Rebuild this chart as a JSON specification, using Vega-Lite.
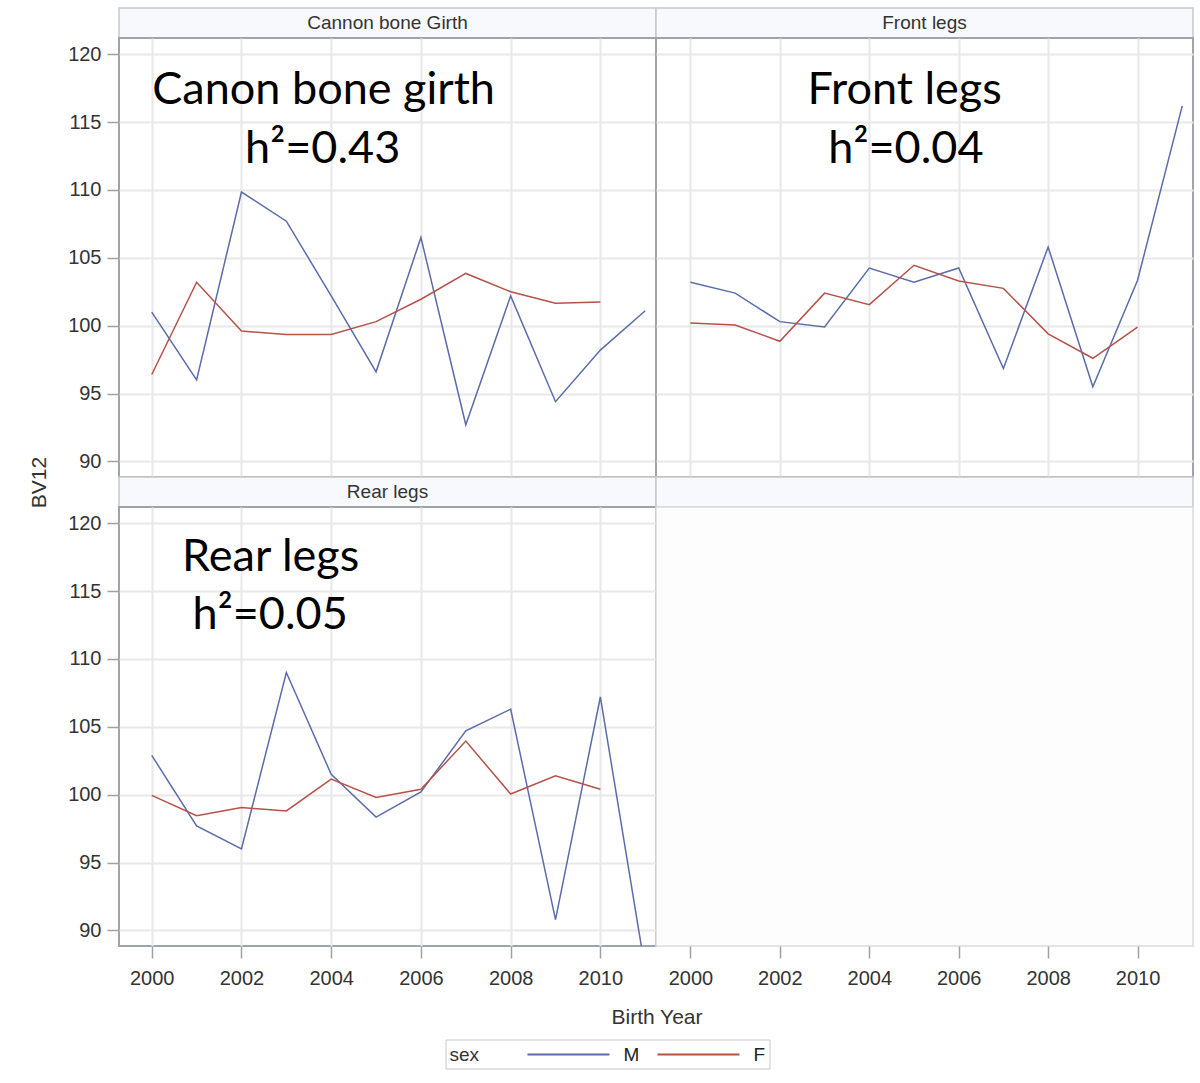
{
  "$schema": "https://vega.github.io/schema/vega-lite/v6.json",
  "background": "white",
  "autosize": {"type": "pad"},
  "padding": {"left": 27, "top": 7, "right": 8, "bottom": 14},
  "config": {
    "font": "Liberation Sans",
    "view": {"stroke": null},
    "axis": {
      "labelFont": "Liberation Sans", "labelFontSize": 20, "labelColor": "#333333",
      "titleFont": "Liberation Sans", "titleFontSize": 21, "titleFontWeight": "normal", "titleColor": "#333333",
      "gridColor": "#e8e8e8", "gridWidth": 2, "tickColor": "#a0a0a0", "tickWidth": 1.5, "tickSize": 12,
      "domain": false, "labelPadding": 6
    },
    "legend": {"labelFont": "Liberation Sans", "titleFont": "Liberation Sans"}
  },
  "datasets": {
    "lines": [
      {"trait": "Cannon bone Girth", "sex": "M", "year": 2000, "bv": 101.0},
      {"trait": "Cannon bone Girth", "sex": "M", "year": 2001, "bv": 96.0},
      {"trait": "Cannon bone Girth", "sex": "M", "year": 2002, "bv": 109.85},
      {"trait": "Cannon bone Girth", "sex": "M", "year": 2003, "bv": 107.7},
      {"trait": "Cannon bone Girth", "sex": "M", "year": 2004, "bv": 102.2},
      {"trait": "Cannon bone Girth", "sex": "M", "year": 2005, "bv": 96.6},
      {"trait": "Cannon bone Girth", "sex": "M", "year": 2006, "bv": 106.5},
      {"trait": "Cannon bone Girth", "sex": "M", "year": 2007, "bv": 92.7},
      {"trait": "Cannon bone Girth", "sex": "M", "year": 2008, "bv": 102.2},
      {"trait": "Cannon bone Girth", "sex": "M", "year": 2009, "bv": 94.4},
      {"trait": "Cannon bone Girth", "sex": "M", "year": 2010, "bv": 98.2},
      {"trait": "Cannon bone Girth", "sex": "M", "year": 2011, "bv": 101.1},
      {"trait": "Cannon bone Girth", "sex": "F", "year": 2000, "bv": 96.4},
      {"trait": "Cannon bone Girth", "sex": "F", "year": 2001, "bv": 103.2},
      {"trait": "Cannon bone Girth", "sex": "F", "year": 2002, "bv": 99.6},
      {"trait": "Cannon bone Girth", "sex": "F", "year": 2003, "bv": 99.35},
      {"trait": "Cannon bone Girth", "sex": "F", "year": 2004, "bv": 99.35},
      {"trait": "Cannon bone Girth", "sex": "F", "year": 2005, "bv": 100.3},
      {"trait": "Cannon bone Girth", "sex": "F", "year": 2006, "bv": 101.95},
      {"trait": "Cannon bone Girth", "sex": "F", "year": 2007, "bv": 103.85},
      {"trait": "Cannon bone Girth", "sex": "F", "year": 2008, "bv": 102.5},
      {"trait": "Cannon bone Girth", "sex": "F", "year": 2009, "bv": 101.65},
      {"trait": "Cannon bone Girth", "sex": "F", "year": 2010, "bv": 101.75},
      {"trait": "Front legs", "sex": "M", "year": 2000, "bv": 103.2},
      {"trait": "Front legs", "sex": "M", "year": 2001, "bv": 102.4},
      {"trait": "Front legs", "sex": "M", "year": 2002, "bv": 100.3},
      {"trait": "Front legs", "sex": "M", "year": 2003, "bv": 99.9},
      {"trait": "Front legs", "sex": "M", "year": 2004, "bv": 104.25},
      {"trait": "Front legs", "sex": "M", "year": 2005, "bv": 103.2},
      {"trait": "Front legs", "sex": "M", "year": 2006, "bv": 104.25},
      {"trait": "Front legs", "sex": "M", "year": 2007, "bv": 96.85},
      {"trait": "Front legs", "sex": "M", "year": 2008, "bv": 105.8},
      {"trait": "Front legs", "sex": "M", "year": 2009, "bv": 95.5},
      {"trait": "Front legs", "sex": "M", "year": 2010, "bv": 103.35},
      {"trait": "Front legs", "sex": "M", "year": 2011, "bv": 116.2},
      {"trait": "Front legs", "sex": "F", "year": 2000, "bv": 100.2},
      {"trait": "Front legs", "sex": "F", "year": 2001, "bv": 100.05},
      {"trait": "Front legs", "sex": "F", "year": 2002, "bv": 98.85},
      {"trait": "Front legs", "sex": "F", "year": 2003, "bv": 102.4},
      {"trait": "Front legs", "sex": "F", "year": 2004, "bv": 101.55},
      {"trait": "Front legs", "sex": "F", "year": 2005, "bv": 104.45},
      {"trait": "Front legs", "sex": "F", "year": 2006, "bv": 103.3},
      {"trait": "Front legs", "sex": "F", "year": 2007, "bv": 102.75},
      {"trait": "Front legs", "sex": "F", "year": 2008, "bv": 99.4},
      {"trait": "Front legs", "sex": "F", "year": 2009, "bv": 97.6},
      {"trait": "Front legs", "sex": "F", "year": 2010, "bv": 99.9},
      {"trait": "Rear legs", "sex": "M", "year": 2000, "bv": 102.9},
      {"trait": "Rear legs", "sex": "M", "year": 2001, "bv": 97.7},
      {"trait": "Rear legs", "sex": "M", "year": 2002, "bv": 96.0},
      {"trait": "Rear legs", "sex": "M", "year": 2003, "bv": 109.0},
      {"trait": "Rear legs", "sex": "M", "year": 2004, "bv": 101.5},
      {"trait": "Rear legs", "sex": "M", "year": 2005, "bv": 98.35},
      {"trait": "Rear legs", "sex": "M", "year": 2006, "bv": 100.2},
      {"trait": "Rear legs", "sex": "M", "year": 2007, "bv": 104.7},
      {"trait": "Rear legs", "sex": "M", "year": 2008, "bv": 106.3},
      {"trait": "Rear legs", "sex": "M", "year": 2009, "bv": 90.8},
      {"trait": "Rear legs", "sex": "M", "year": 2010, "bv": 107.2},
      {"trait": "Rear legs", "sex": "M", "year": 2011, "bv": 87.1},
      {"trait": "Rear legs", "sex": "F", "year": 2000, "bv": 99.95},
      {"trait": "Rear legs", "sex": "F", "year": 2001, "bv": 98.45},
      {"trait": "Rear legs", "sex": "F", "year": 2002, "bv": 99.05},
      {"trait": "Rear legs", "sex": "F", "year": 2003, "bv": 98.8},
      {"trait": "Rear legs", "sex": "F", "year": 2004, "bv": 101.15},
      {"trait": "Rear legs", "sex": "F", "year": 2005, "bv": 99.8},
      {"trait": "Rear legs", "sex": "F", "year": 2006, "bv": 100.4},
      {"trait": "Rear legs", "sex": "F", "year": 2007, "bv": 103.95},
      {"trait": "Rear legs", "sex": "F", "year": 2008, "bv": 100.05},
      {"trait": "Rear legs", "sex": "F", "year": 2009, "bv": 101.4},
      {"trait": "Rear legs", "sex": "F", "year": 2010, "bv": 100.4}
    ]
  },
  "columns": 2,
  "spacing": 0,
  "bounds": "flush",
  "concat": [
    {
      "width": 537, "height": 30,
      "view": {"fill": "#f8f9fd", "stroke": "#c5c8ce", "strokeWidth": 1.5},
      "data": {"values": [{"label": "Cannon bone Girth"}]},
      "mark": {"type": "text", "fontSize": 19, "color": "#333333", "baseline": "middle", "align": "center"},
      "encoding": {"text": {"field": "label"}}
    },
    {
      "width": 537, "height": 30,
      "view": {"fill": "#f8f9fd", "stroke": "#c5c8ce", "strokeWidth": 1.5},
      "data": {"values": [{"label": "Front legs"}]},
      "mark": {"type": "text", "fontSize": 19, "color": "#333333", "baseline": "middle", "align": "center"},
      "encoding": {"text": {"field": "label"}}
    },
    {
      "width": 537, "height": 439,
      "view": {"stroke": "#a0a4aa", "strokeWidth": 2},
      "layer": [
        {
          "data": {"name": "lines"},
          "transform": [{"filter": "datum.trait == 'Cannon bone Girth'"}],
          "mark": {"type": "line", "strokeWidth": 1.5, "clip": true},
          "encoding": {
            "x": {"field": "year", "type": "quantitative",
              "scale": {"domain": [1999.27, 2011.24], "nice": false, "zero": false},
              "axis": {"values": [2000, 2002, 2004, 2006, 2008, 2010], "labels": false, "ticks": false, "title": null, "grid": true}},
            "y": {"field": "bv", "type": "quantitative",
              "scale": {"domain": [88.85, 121.2], "nice": false, "zero": false},
              "axis": {"values": [90, 95, 100, 105, 110, 115, 120], "title": "BV12", "titleX": -73.5, "titleY": 444, "titleBaseline": "alphabetic", "titleAlign": "center", "grid": true}},
            "color": {"field": "sex", "type": "nominal",
              "scale": {"domain": ["M", "F"], "range": ["#5b6caa", "#b5524a"]},
              "legend": {"title": "sex", "orient": "none", "legendX": 326.5, "legendY": 1031.5, "direction": "horizontal", "titleOrient": "left", "titleBaseline": "middle", "symbolType": "M-4.1,0H4.1", "symbolSize": 400, "symbolStrokeWidth": 2, "labelFontSize": 19, "titleFontSize": 19, "titleFontWeight": "normal", "labelColor": "#222222", "titleColor": "#333333", "strokeColor": "#c8c8c8", "fillColor": "white", "padding": 4, "columnPadding": 14, "labelOffset": 44, "titlePadding": 78}}
          }
        },
        {
          "data": {"values": [{"t": "Canon bone girth"}]},
          "mark": {"type": "text", "font": "Lato", "fontSize": 45, "align": "center", "baseline": "alphabetic", "color": "black"},
          "encoding": {"x": {"datum": 2003.83}, "y": {"datum": 116.35}, "text": {"field": "t"}}
        },
        {
          "data": {"values": [{"t": "h²=0.43"}]},
          "mark": {"type": "text", "font": "Lato", "fontSize": 45, "align": "center", "baseline": "alphabetic", "color": "black"},
          "encoding": {"x": {"datum": 2003.81}, "y": {"datum": 112.02}, "text": {"field": "t"}}
        }
      ]
    },
    {
      "width": 537, "height": 439,
      "view": {"stroke": "#a0a4aa", "strokeWidth": 2},
      "layer": [
        {
          "data": {"name": "lines"},
          "transform": [{"filter": "datum.trait == 'Front legs'"}],
          "mark": {"type": "line", "strokeWidth": 1.5, "clip": true},
          "encoding": {
            "x": {"field": "year", "type": "quantitative",
              "scale": {"domain": [1999.23, 2011.24], "nice": false, "zero": false},
              "axis": {"values": [2000, 2002, 2004, 2006, 2008, 2010], "labels": false, "ticks": false, "title": null, "grid": true}},
            "y": {"field": "bv", "type": "quantitative",
              "scale": {"domain": [88.85, 121.2], "nice": false, "zero": false},
              "axis": {"values": [90, 95, 100, 105, 110, 115, 120], "labels": false, "ticks": false, "title": null, "grid": true}},
            "color": {"field": "sex", "type": "nominal",
              "scale": {"domain": ["M", "F"], "range": ["#5b6caa", "#b5524a"]}}
          }
        },
        {
          "data": {"values": [{"t": "Front legs"}]},
          "mark": {"type": "text", "font": "Lato", "fontSize": 45, "align": "center", "baseline": "alphabetic", "color": "black"},
          "encoding": {"x": {"datum": 2004.79}, "y": {"datum": 116.3}, "text": {"field": "t"}}
        },
        {
          "data": {"values": [{"t": "h²=0.04"}]},
          "mark": {"type": "text", "font": "Lato", "fontSize": 45, "align": "center", "baseline": "alphabetic", "color": "black"},
          "encoding": {"x": {"datum": 2004.82}, "y": {"datum": 112.02}, "text": {"field": "t"}}
        }
      ]
    },
    {
      "width": 537, "height": 30,
      "view": {"fill": "#f8f9fd", "stroke": "#c5c8ce", "strokeWidth": 1.5},
      "data": {"values": [{"label": "Rear legs"}]},
      "mark": {"type": "text", "fontSize": 19, "color": "#333333", "baseline": "middle", "align": "center"},
      "encoding": {"text": {"field": "label"}}
    },
    {
      "width": 537, "height": 30,
      "view": {"fill": "#f8f9fd", "stroke": "#c5c8ce", "strokeWidth": 1.5},
      "data": {"values": [{"label": ""}]},
      "mark": {"type": "text", "fontSize": 19, "color": "#333333", "baseline": "middle", "align": "center"},
      "encoding": {"text": {"field": "label"}}
    },
    {
      "width": 537, "height": 439,
      "view": {"stroke": "#a0a4aa", "strokeWidth": 2},
      "layer": [
        {
          "data": {"name": "lines"},
          "transform": [{"filter": "datum.trait == 'Rear legs'"}],
          "mark": {"type": "line", "strokeWidth": 1.5, "clip": true},
          "encoding": {
            "x": {"field": "year", "type": "quantitative",
              "scale": {"domain": [1999.27, 2011.24], "nice": false, "zero": false},
              "axis": {"values": [2000, 2002, 2004, 2006, 2008, 2010], "format": "d", "title": "Birth Year", "titleX": 537.5, "titleY": 77.5, "titleBaseline": "alphabetic", "titleAlign": "center", "labelPadding": 10, "grid": true}},
            "y": {"field": "bv", "type": "quantitative",
              "scale": {"domain": [88.85, 121.2], "nice": false, "zero": false},
              "axis": {"values": [90, 95, 100, 105, 110, 115, 120], "title": null, "grid": true}},
            "color": {"field": "sex", "type": "nominal",
              "scale": {"domain": ["M", "F"], "range": ["#5b6caa", "#b5524a"]}}
          }
        },
        {
          "data": {"values": [{"t": "Rear legs"}]},
          "mark": {"type": "text", "font": "Lato", "fontSize": 45, "align": "center", "baseline": "alphabetic", "color": "black"},
          "encoding": {"x": {"datum": 2002.65}, "y": {"datum": 116.46}, "text": {"field": "t"}}
        },
        {
          "data": {"values": [{"t": "h²=0.05"}]},
          "mark": {"type": "text", "font": "Lato", "fontSize": 45, "align": "center", "baseline": "alphabetic", "color": "black"},
          "encoding": {"x": {"datum": 2002.64}, "y": {"datum": 112.21}, "text": {"field": "t"}}
        }
      ]
    },
    {
      "width": 537, "height": 439,
      "view": {"stroke": "#dcdcdc", "strokeWidth": 1.5, "fill": "#fdfdfd"},
      "data": {"name": "lines"},
      "transform": [{"filter": "datum.trait == 'none'"}],
      "mark": {"type": "line", "strokeWidth": 1.5, "clip": true},
      "encoding": {
        "x": {"field": "year", "type": "quantitative",
          "scale": {"domain": [1999.23, 2011.24], "nice": false, "zero": false},
          "axis": {"values": [2000, 2002, 2004, 2006, 2008, 2010], "format": "d", "title": null, "labelPadding": 10, "grid": false}},
        "y": {"field": "bv", "type": "quantitative",
          "scale": {"domain": [88.85, 121.2], "nice": false, "zero": false},
          "axis": null},
        "color": {"field": "sex", "type": "nominal",
          "scale": {"domain": ["M", "F"], "range": ["#5b6caa", "#b5524a"]}}
      }
    }
  ]
}
